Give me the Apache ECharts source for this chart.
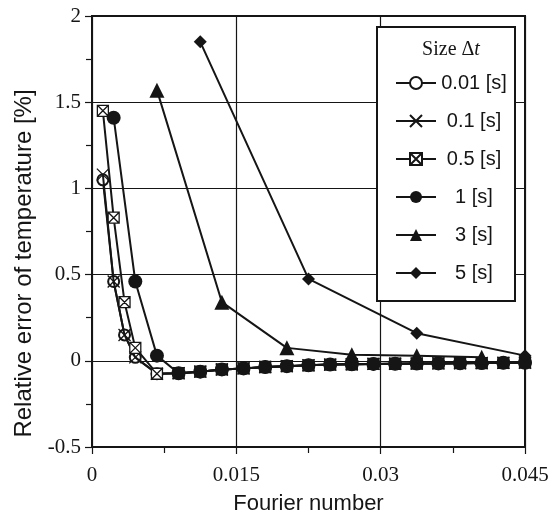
<!DOCTYPE html>
<html>
<head>
<meta charset="utf-8">
<script src="https://cdn.jsdelivr.net/npm/echarts@6/dist/echarts.min.js"></script>
<style>
  html, body { margin: 0; padding: 0; background: #fff; }
  #chart { width: 560px; height: 520px; }
</style>
</head>
<body>
<div id="chart"></div>
<script>
// Step sizes shown in the legend
const stepNames = ['0.01 [s]', '0.1 [s]', '0.5 [s]', '1 [s]', '3 [s]', '5 [s]'];

// Fourier numbers of the output times for the small steps (t = 0.5, 1, 1.5, 2, 3 ... 20 s)
const foFine = [0.00113, 0.00225, 0.00338, 0.0045, 0.00675, 0.009, 0.01125, 0.0135, 0.01575, 0.018,
  0.02025, 0.0225, 0.02475, 0.027, 0.02925, 0.0315, 0.03375, 0.036, 0.03825, 0.0405, 0.04275, 0.045];
const err001 = [1.05, 0.46, 0.15, 0.02, -0.075, -0.072, -0.063, -0.05, -0.044, -0.036,
  -0.031, -0.026, -0.022, -0.02, -0.018, -0.017, -0.016, -0.015, -0.014, -0.013, -0.012, -0.011];
const err01 = [1.08, 0.46, 0.15, 0.02, -0.075, -0.072, -0.063, -0.05, -0.044, -0.036,
  -0.031, -0.026, -0.022, -0.02, -0.018, -0.017, -0.016, -0.015, -0.014, -0.013, -0.012, -0.011];
const err05 = [1.45, 0.83, 0.34, 0.075, -0.075, -0.072, -0.063, -0.05, -0.044, -0.036,
  -0.031, -0.026, -0.022, -0.02, -0.018, -0.017, -0.016, -0.015, -0.014, -0.013, -0.012, -0.011];

// Δt = 1 s (t = 1 ... 20 s)
const fo1 = [0.00225, 0.0045, 0.00675, 0.009, 0.01125, 0.0135, 0.01575, 0.018, 0.02025, 0.0225,
  0.02475, 0.027, 0.02925, 0.0315, 0.03375, 0.036, 0.03825, 0.0405, 0.04275, 0.045];
const err1 = [1.41, 0.46, 0.03, -0.072, -0.063, -0.05, -0.044, -0.036, -0.031, -0.026,
  -0.022, -0.02, -0.018, -0.017, -0.016, -0.015, -0.014, -0.013, -0.012, -0.011];

// Δt = 3 s
const fo3 = [0.00675, 0.0135, 0.02025, 0.027, 0.03375, 0.0405];
const err3 = [1.57, 0.34, 0.075, 0.035, 0.03, 0.02];

// Δt = 5 s
const fo5 = [0.01125, 0.0225, 0.03375, 0.045];
const err5 = [1.85, 0.475, 0.16, 0.03];

// Axis tick labels
const xTickLabels = ['0', '0.015', '0.03', '0.045'];
const yTickLabels = ['-0.5', '0', '0.5', '1', '1.5', '2'];

const INK = '#151515';
const SERIF = '"Liberation Serif", "Times New Roman", serif';
const SANS = '"Liberation Sans", Arial, sans-serif';

function pairs(xs, ys) { return xs.map((x, i) => [x, ys[i]]); }
function tickText(list) {
  return v => {
    const hit = list.find(t => Math.abs(parseFloat(t) - v) < 1e-9);
    return hit === undefined ? '' : hit;
  };
}

const symbols = [
  { symbol: 'emptyCircle', size: 11, fill: INK, bw: 1.3 },
  { symbol: 'path://M0,0L10,10M10,0L0,10', size: 12, fill: INK, bw: 1.3 },
  { symbol: 'path://M0,0H10V10H0ZM0,0L10,10M10,0L0,10', size: 11, fill: '#fff', bw: 1.3 },
  { symbol: 'circle', size: 14, fill: INK, bw: 0 },
  { symbol: 'triangle', size: 15, fill: INK, bw: 0 },
  { symbol: 'diamond', size: 13, fill: INK, bw: 0 }
];
const dataSets = [
  pairs(foFine, err001), pairs(foFine, err01), pairs(foFine, err05),
  pairs(fo1, err1), pairs(fo3, err3), pairs(fo5, err5)
];

const series = stepNames.map((name, i) => ({
  name: name,
  type: 'line',
  data: dataSets[i],
  symbol: symbols[i].symbol,
  symbolSize: symbols[i].size,
  showSymbol: true,
  showAllSymbol: true,
  lineStyle: { color: INK, width: 2 },
  itemStyle: { color: symbols[i].fill, borderColor: INK, borderWidth: symbols[i].bw, opacity: 1 },
  emphasis: { disabled: true },
  z: 2 + i * 0.01
}));

const chart = echarts.init(document.getElementById('chart'), null, { renderer: 'canvas' });
chart.setOption({
  animation: false,
  backgroundColor: '#fff',
  grid: {
    left: 92, right: 35, top: 16, bottom: 73,
    show: true, borderColor: INK, borderWidth: 2, backgroundColor: 'transparent'
  },
  xAxis: {
    type: 'value', min: 0, max: 0.045, interval: 0.015,
    name: 'Fourier number', nameLocation: 'middle', nameGap: 46,
    nameTextStyle: { fontFamily: SANS, fontSize: 22, color: INK },
    axisLine: { show: true, onZero: false, lineStyle: { color: INK, width: 2 } },
    axisTick: { show: true, inside: false, length: 7, lineStyle: { color: INK, width: 1.2 } },
    minorTick: { show: true, splitNumber: 2, length: 6, lineStyle: { color: INK, width: 1.2 } },
    splitLine: { show: true, lineStyle: { color: INK, width: 1.2 } },
    axisLabel: { formatter: tickText(xTickLabels), fontFamily: SERIF, fontSize: 21, color: INK, margin: 18,
      showMinLabel: true, showMaxLabel: true }
  },
  yAxis: {
    type: 'value', min: -0.5, max: 2, interval: 0.5,
    name: 'Relative error of temperature [%]', nameLocation: 'middle', nameGap: 55, nameRotate: 90,
    nameTextStyle: { fontFamily: SANS, fontSize: 24, color: INK, padding: [0, 64, 0, 0] },
    axisLine: { show: true, onZero: false, lineStyle: { color: INK, width: 2 } },
    axisTick: { show: true, inside: false, length: 7, lineStyle: { color: INK, width: 1.2 } },
    minorTick: { show: true, splitNumber: 2, length: 6, lineStyle: { color: INK, width: 1.2 } },
    splitLine: { show: true, lineStyle: { color: INK, width: 1.2 } },
    axisLabel: { formatter: tickText(yTickLabels), fontFamily: SERIF, fontSize: 21, color: INK, margin: 11,
      showMinLabel: true, showMaxLabel: true }
  },
  title: {
    text: '{a|Size Δ}{b|t}',
    left: 446, top: 35, textAlign: 'center',
    textStyle: {
      fontWeight: 'normal',
      rich: {
        a: { fontFamily: SERIF, fontSize: 20, fontWeight: 'normal', color: INK },
        b: { fontFamily: SERIF, fontSize: 20, fontWeight: 'normal', fontStyle: 'italic', color: INK }
      }
    },
    z: 10
  },
  legend: {
    data: stepNames,
    orient: 'vertical',
    left: 377, top: 27,
    padding: [46, 8, 18, 18],
    itemWidth: 40, itemHeight: 15, itemGap: 18,
    backgroundColor: '#fff', borderColor: INK, borderWidth: 2,
    selectedMode: false,
    formatter: name => '{c|' + name + '}',
    textStyle: {
      color: INK,
      rich: { c: { fontFamily: SANS, fontSize: 20, lineHeight: 20, color: INK, width: 66, align: 'center' } }
    },
    z: 5
  },
  series: series
});
</script>
</body>
</html>
